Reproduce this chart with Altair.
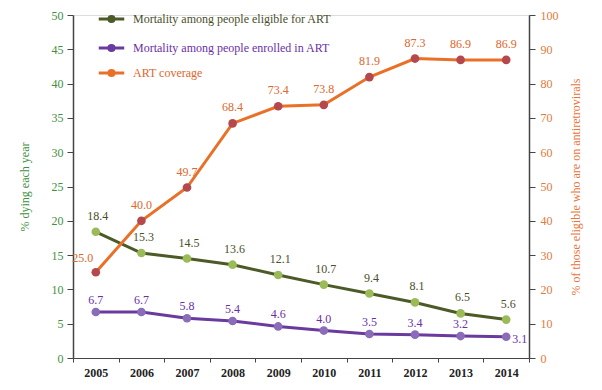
import altair as alt
import pandas as pd

years = [2005, 2006, 2007, 2008, 2009, 2010, 2011, 2012, 2013, 2014]
eligible = [18.4, 15.3, 14.5, 13.6, 12.1, 10.7, 9.4, 8.1, 6.5, 5.6]
enrolled = [6.7, 6.7, 5.8, 5.4, 4.6, 4.0, 3.5, 3.4, 3.2, 3.1]
coverage = [25.0, 40.0, 49.7, 68.4, 73.4, 73.8, 81.9, 87.3, 86.9, 86.9]

names = ["Mortality among people eligible for ART",
         "Mortality among people enrolled in ART",
         "ART coverage"]

FONT = "Liberation Serif"
FS = 12

def frame(vals, name):
    return pd.DataFrame({"year": years, "value": vals, "series": name,
                         "label": [f"{v:.1f}" for v in vals]})

df_g = frame(eligible, names[0])
df_p = frame(enrolled, names[1])
df_o = frame(coverage, names[2])

x_enc = alt.X("year:O", scale=alt.Scale(type="band", paddingInner=0, paddingOuter=0),
              axis=alt.Axis(title=None, labelAngle=0, tickBand="extent", tickSize=4,
                            labelPadding=5, labelFontSize=FS, labelFont=FONT,
                            labelColor="#222222", domainColor="#444444", tickColor="#444444",
                            labelFontWeight="bold"))

left_axis = alt.Axis(title="% dying each year", values=list(range(0, 51, 5)), grid=False,
                     tickSize=6, labelPadding=4, labelFontSize=FS, labelFont=FONT,
                     labelColor="#3f8f3f", titleColor="#3f8f3f", titleFont=FONT,
                     titleFontSize=FS, titleFontWeight="normal", titlePadding=20,
                     domainColor="#444444", tickColor="#444444", domainWidth=1.5)
right_axis = alt.Axis(title="% of those eligible who are on antiretrovirals", orient="right",
                      values=list(range(0, 101, 10)), grid=False, tickSize=6, labelPadding=5,
                      labelFontSize=FS, labelFont=FONT, labelColor="#e07a3a",
                      titleColor="#e8743a", titleFont=FONT, titleFontSize=FS,
                      titleFontWeight="normal", titlePadding=24, titleAngle=270,
                      domainColor="#444444", tickColor="#444444", domainWidth=1.5)

SYM = "M-1,0H1M0.2,0A0.2,0.2,0,1,1,-0.2,0A0.2,0.2,0,1,1,0.2,0"

def legend(y, line_col, pt_col, lab_col):
    return alt.Legend(title=None, orient="none", legendX=24, legendY=y,
                      symbolType=SYM, symbolSize=650,
                      symbolStrokeColor=line_col, symbolStrokeWidth=3,
                      symbolFillColor=pt_col, labelColor=lab_col,
                      labelFont=FONT, labelFontSize=FS, labelOffset=7, labelLimit=400)

def lines_pts(df, yscale, yaxis, line_col, pt_col, lab_col, legend_y):
    base = alt.Chart(df).encode(x=x_enc, y=alt.Y("value:Q", scale=yscale, axis=yaxis))
    line = base.mark_line(color=line_col, strokeWidth=3)
    pts = base.mark_point(filled=True, size=75, opacity=1).encode(
        color=alt.Color("series:N", scale=alt.Scale(domain=[df["series"][0]], range=[pt_col]),
                        legend=legend(legend_y, line_col, pt_col, lab_col)))
    return line, pts

yl = alt.Scale(domain=[0, 50], nice=False)
yr = alt.Scale(domain=[0, 100], nice=False)

g_line, g_pts = lines_pts(df_g, yl, left_axis, "#4b5a27", "#9bbb59", "#4a4f2a", -10.5)
p_line, p_pts = lines_pts(df_p, yl, left_axis, "#6a3a9e", "#8a6cb8", "#6a2fa8", 18.5)
o_line, o_pts = lines_pts(df_o, yr, right_axis, "#ea7028", "#b4484c", "#e0662a", 43.5)

def txt(df, yscale, yaxis, color, flt=None, **kw):
    c = alt.Chart(df)
    if flt:
        c = c.transform_filter(flt)
    return c.mark_text(font=FONT, fontSize=FS, baseline="middle", color=color, **kw).encode(
        x=x_enc, y=alt.Y("value:Q", scale=yscale, axis=yaxis), text="label:N")

g_txt = txt(df_g, yl, left_axis, "#4a4f2a", dy=-16, dx=2)
p_txt_main = txt(df_p, yl, left_axis, "#6a2fa8", "datum.year != 2014", dy=-12)
p_txt_last = txt(df_p, yl, left_axis, "#6a2fa8", "datum.year == 2014", align="left", dx=6, dy=2)
o_txt_main = txt(df_o, yr, right_axis, "#e0662a", "datum.year != 2005", dy=-16)
o_txt_first = txt(df_o, yr, right_axis, "#e0662a", "datum.year == 2005", dx=-13, dy=-14)

left = alt.layer(g_line, p_line, g_pts, p_pts, g_txt, p_txt_main,
                 p_txt_last).resolve_scale(color="independent")
right = alt.layer(o_line, o_pts, o_txt_main, o_txt_first)

chart = alt.layer(left, right).resolve_scale(y="independent", color="independent").properties(
    width=456, height=343,
    autosize=alt.AutoSizeParams(type="none"),
    padding={"left": 65, "top": 7, "right": 65, "bottom": 24},
).configure_view(stroke=None).configure(background="white")

chart.save("out.html", embed_options={"renderer": "svg", "actions": False})
